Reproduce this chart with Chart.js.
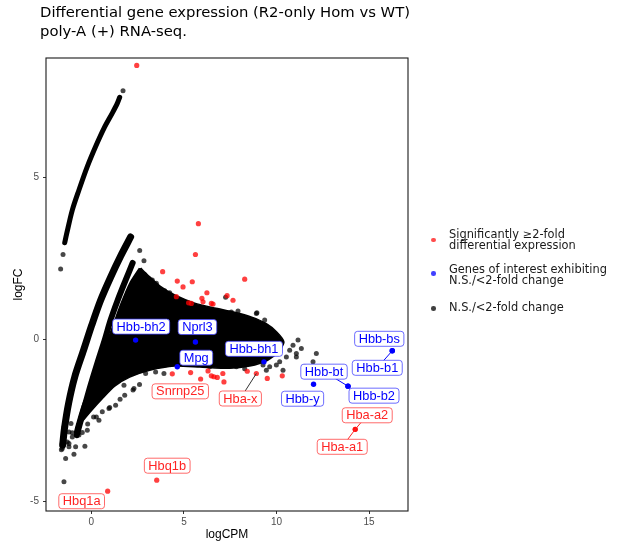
<!DOCTYPE html>
<html><head><meta charset="utf-8">
<script src="https://cdn.jsdelivr.net/npm/chart.js@4/dist/chart.umd.min.js"></script>
<style>
body{margin:0;background:#fff;}
#wrap{position:relative;width:617px;height:551px;overflow:hidden;}
canvas{position:absolute;left:0;top:0;}
.title{position:absolute;left:40px;top:3px;font-family:"DejaVu Sans",sans-serif;font-size:14.8px;line-height:18.5px;color:#000;white-space:nowrap;}
.leg{position:absolute;left:449px;font-family:"DejaVu Sans",sans-serif;font-size:11.4px;line-height:11.7px;color:#1a1a1a;white-space:nowrap;}
.dot{position:absolute;left:431px;width:4.5px;height:4.5px;border-radius:50%;}
</style></head>
<body><div id="wrap">
<canvas id="c" width="617" height="551"></canvas>
<div class="title">Differential gene expression (R2-only Hom vs WT)<br>poly-A (+) RNA-seq.</div>
<div class="dot" style="top:237.8px;background:rgba(255,0,0,0.7)"></div>
<div class="leg" style="top:228.7px">Significantly ≥2-fold<br>differential expression</div>
<div class="dot" style="top:271px;background:rgba(0,0,255,0.75)"></div>
<div class="leg" style="top:263.5px">Genes of interest exhibiting<br>N.S./&lt;2-fold change</div>
<div class="dot" style="top:306px;background:rgba(0,0,0,0.75)"></div>
<div class="leg" style="top:301.9px">N.S./&lt;2-fold change</div>
</div>
<script>
// ---------- data (logCPM = x, logFC = y) ----------
const xTicks = [0, 5, 10, 15];
const yTicks = [-5, 0, 5];

// significant (red) genes without labels
const redLogCPM = [2.45, 5.78, 5.62, 3.85, 4.64, 4.95, 5.45, 6.24, 5.97, 8.28, 7.33, 7.65, 5.25, 5.40, 6.03, 6.48, 6.57, 4.59,
                   5.36, 5.90, 6.30, 6.62, 6.80, 7.16, 7.10, 8.42, 9.50, 10.31, 6.48];
const redLogFC  = [8.44, 3.56, 2.61, 2.08, 1.79, 1.61, 1.77, 1.43, 1.26, 1.85, 1.34, 1.20, 1.12, 1.10, 1.15, 1.10, 1.08, 1.31,
                   -1.03, -1.23, -0.98, -1.16, -1.18, -1.32, -1.06, -0.99, -1.21, -1.13, -1.13];

// labelled significant (red) genes
const redGenes     = ['Snrnp25', 'Hba-x', 'Hba-a2', 'Hba-a1', 'Hbq1a', 'Hbq1b'];
const redGeneLogCPM = [4.37, 8.91, 14.25, 14.25, 0.88, 3.53];
const redGeneLogFC  = [-1.07, -1.06, -2.78, -2.78, -4.69, -4.35];

// genes of interest (blue)
const blueGenes  = ['Hbb-bh2', 'Nprl3', 'Mpg', 'Hbb-bh1', 'Hbb-y', 'Hbb-bt', 'Hbb-b2', 'Hbb-bs', 'Hbb-b1'];
const blueLogCPM = [2.39, 5.62, 4.64, 9.32, 12.0, 13.86, 13.86, 16.25, 16.25];
const blueLogFC  = [-0.03, -0.09, -0.85, -0.70, -1.39, -1.45, -1.45, -0.36, -0.36];

// N.S. genes: individually visible points
const nsLogCPM = [-1.21, -1.03, -0.49, -1.30, -1.57, -0.85, -0.35, -0.94, -1.39, -1.48, -1.21, -1.62, 0.27, 0.12, 0.99, 2.25, 1.80,
  2.30, 1.76, 1.31, 0.95, 0.41, 0.59, 2.93, 3.47, 3.92, -0.22, -0.67, -1.03, -1.48, -1.57, -1.21,
  8.91, 9.36, 11.97, 12.15, 10.71, 11.07, 11.52, 10.35, 9.99, 9.45, 9.27,
  7.25, 8.94, 3.15, 3.51, 3.96, 4.23, 5.85, 6.48, 7.02, 7.56, 7.92, 8.19, 8.55, 9.09, 9.45, 2.61, 2.84, 2.75, 3.29, 3.74,
  5.94, 6.39, 7.83, 8.28, 9.63, 10.17, 10.53, 11.07, 11.34, 11.16, 10.89,
  1.71, -1.53, -1.66, -1.10, -0.70, -1.35, -0.20, 1.55, 2.60];
const nsLogFC = [-2.86, -2.89, -2.88, -3.17, -3.37, -3.32, -3.30, -3.55, -3.68, -4.40, -3.22, -3.41, -2.40, -2.40, -2.11, -1.57, -1.73,
  -1.52, -1.42, -2.04, -2.14, -2.50, -2.24, -1.06, -1.01, -1.06, -2.81, -2.96, -3.02, -2.71, -3.22, -3.32,
  0.79, 0.59, -0.70, -0.44, -0.34, -0.55, -0.85, -0.96, -0.80, -0.96, -0.80,
  1.29, 0.81, 1.82, 1.72, 1.49, 1.43, 0.95, 0.92, 0.84, 0.84, 0.87, 0.69, 0.59, 0.48, 0.40, 2.73, 2.42, 1.92, 1.82, 1.51,
  -0.75, -0.85, -0.85, -0.91, -0.85, -0.70, -0.55, -0.44, -0.29, -0.03, -0.19,
  7.66, 2.61, 2.16, -2.60, -2.70, -2.45, -2.62, -1.85, -1.40];

// N.S. genes: dense low-count arc (upper-left)
const arcLogCPM = [-1.44, -1.33, -1.03, -0.67, -0.22, 0.23, 0.68, 1.13, 1.40, 1.53];
const arcLogFC  = [2.97, 3.26, 3.98, 4.60, 5.32, 5.94, 6.50, 6.97, 7.27, 7.46];

// N.S. genes: dense low-count bands (left)
const bandALogCPM = [-1.55, -1.45, -1.23, -0.90, -0.42, 0.02, 0.50, 1.04, 1.58, 2.12];
const bandALogFC  = [-3.27, -2.75, -1.98, -1.17, -0.34, 0.43, 1.20, 1.91, 2.56, 3.15];
const bandBLogCPM = [-0.79, -0.42, -0.04, 0.34, 0.72, 1.04, 1.42, 1.85, 2.23];
const bandBLogFC  = [-2.96, -2.19, -1.42, -0.71, -0.03, 0.59, 1.20, 1.82, 2.35];

// N.S. genes: outline of the dense central cloud
const cloudLogCPM = [2.66, 3.04, 3.69, 4.50, 5.58, 6.66, 7.74, 8.66, 9.41, 10.01, 10.40, 10.11, 9.52, 8.55, 7.47, 5.85, 4.50, 3.15,
  2.07, 1.26, 0.61, 0.02, -0.52, -0.90, -0.48, 0.08, 0.55, 1.08, 1.57, 2.08, 2.60];
const cloudLogFC  = [2.19, 1.98, 1.64, 1.36, 1.11, 0.96, 0.83, 0.68, 0.49, 0.22, -0.09, -0.40, -0.65, -0.83, -0.90, -0.86, -0.83, -0.96,
  -1.17, -1.45, -1.82, -2.19, -2.56, -2.87, -2.04, -1.27, -0.49, 0.28, 1.05, 1.73, 2.19];

// ---------- label layout (pixel offsets from point to label centre) ----------
const labelLayout = {
  'Hbb-bh2': {dx: 5.5, dy: -13.5}, 'Nprl3': {dx: 2, dy: -15}, 'Mpg': {dx: 19, dy: -9},
  'Hbb-bh1': {dx: -10, dy: -13}, 'Hbb-y': {dx: -11, dy: 14.5}, 'Hbb-bt': {dx: -24, dy: -14.5, seg: true},
  'Hbb-b2': {dx: 26, dy: 9.5}, 'Hbb-bs': {dx: -13, dy: -12}, 'Hbb-b1': {dx: -15, dy: 17, seg: true},
  'Snrnp25': {dx: 8, dy: 17.5}, 'Hba-x': {dx: -16, dy: 25, seg: true, segColor: '#333'},
  'Hba-a2': {dx: 12, dy: -14, seg: true}, 'Hba-a1': {dx: -13, dy: 17.5, seg: true},
  'Hbq1a': {dx: -26, dy: 10}, 'Hbq1b': {dx: 10.5, dy: -14.5}
};

const pts = (xs, ys) => xs.map((x, i) => ({x: x, y: ys[i]}));

const labels = [];
blueGenes.forEach((g, i) => labels.push({g, x: blueLogCPM[i], y: blueLogFC[i], c: '#0000FF', b: 'rgba(60,60,255,0.75)'}));
redGenes.forEach((g, i) => labels.push({g, x: redGeneLogCPM[i], y: redGeneLogFC[i], c: '#FF2424', b: 'rgba(255,70,70,0.8)'}));

const geneLabelPlugin = {
  id: 'geneLabels',
  afterDatasetsDraw(chart) {
    const ctx = chart.ctx, xs = chart.scales.x, ys = chart.scales.y;
    ctx.save();
    ctx.font = '12.8px "Liberation Sans", Arial, sans-serif';
    ctx.textAlign = 'center';
    ctx.textBaseline = 'middle';
    labels.forEach(l => {
      const lay = labelLayout[l.g];
      if (!lay.seg) return;
      const px = xs.getPixelForValue(l.x), py = ys.getPixelForValue(l.y);
      ctx.strokeStyle = lay.segColor || l.c;
      ctx.lineWidth = 1;
      ctx.beginPath(); ctx.moveTo(px, py); ctx.lineTo(px + lay.dx, py + lay.dy); ctx.stroke();
    });
    labels.forEach(l => {
      const lay = labelLayout[l.g];
      const px = xs.getPixelForValue(l.x), py = ys.getPixelForValue(l.y);
      const cx = px + lay.dx, cy = py + lay.dy;
      const w = ctx.measureText(l.g).width + 8, h = 15;
      const x0 = cx - w / 2, y0 = cy - h / 2, r = 3;
      ctx.beginPath();
      ctx.moveTo(x0 + r, y0); ctx.lineTo(x0 + w - r, y0); ctx.arcTo(x0 + w, y0, x0 + w, y0 + r, r);
      ctx.lineTo(x0 + w, y0 + h - r); ctx.arcTo(x0 + w, y0 + h, x0 + w - r, y0 + h, r);
      ctx.lineTo(x0 + r, y0 + h); ctx.arcTo(x0, y0 + h, x0, y0 + h - r, r);
      ctx.lineTo(x0, y0 + r); ctx.arcTo(x0, y0, x0 + r, y0, r); ctx.closePath();
      ctx.fillStyle = '#fff'; ctx.fill();
      ctx.strokeStyle = l.b; ctx.lineWidth = 1; ctx.stroke();
      ctx.fillStyle = l.c;
      ctx.fillText(l.g, cx, cy + 0.5);
    });
    ctx.restore();
  },
  afterDraw(chart) {
    const a = chart.chartArea, ctx = chart.ctx;
    ctx.save();
    ctx.strokeStyle = '#1a1a1a'; ctx.lineWidth = 1.1;
    ctx.strokeRect(a.left, a.top, a.right - a.left, a.bottom - a.top);
    ctx.restore();
  }
};

const denseLine = (data, w, order) => ({
  type: 'line', data, borderColor: '#000', borderWidth: w, pointRadius: 0, fill: false,
  tension: 0.3, borderCapStyle: 'round', borderJoinStyle: 'round', order
});

const tickFont = {family: '"Liberation Sans", Arial, sans-serif', size: 10};
const titleFont = {family: '"Liberation Sans", Arial, sans-serif', size: 12};

new Chart(document.getElementById('c'), {
  type: 'scatter',
  data: {
    datasets: [
      {data: pts(blueLogCPM, blueLogFC), backgroundColor: '#0000FF', pointRadius: 2.7, borderWidth: 0, order: 0},
      {data: pts(redLogCPM.concat(redGeneLogCPM), redLogFC.concat(redGeneLogFC)), backgroundColor: 'rgba(255,0,0,0.75)', pointRadius: 2.6, borderWidth: 0, order: 1},
      {data: pts(nsLogCPM, nsLogFC), backgroundColor: 'rgba(0,0,0,0.72)', pointRadius: 2.5, borderWidth: 0, order: 2},
      {type: 'line', data: pts(cloudLogCPM, cloudLogFC), borderColor: '#000', backgroundColor: '#000', borderWidth: 1.5,
       pointRadius: 0, fill: 'shape', tension: 0.2, order: 3},
      denseLine(pts(arcLogCPM, arcLogFC), 5, 4),
      denseLine(pts(bandALogCPM, bandALogFC), 7, 5),
      denseLine(pts(bandBLogCPM, bandBLogFC), 6, 6)
    ]
  },
  options: {
    responsive: false, animation: false, devicePixelRatio: 1, events: [],
    layout: {padding: {left: 0, top: 58, right: 209, bottom: 0}},
    plugins: {legend: {display: false}, tooltip: {enabled: false}},
    scales: {
      x: {
        type: 'linear', min: -2.45, max: 17.1,
        afterFit: s => { s.height = 40; },
        afterBuildTicks: s => { s.ticks = xTicks.map(v => ({value: v})); },
        ticks: {color: '#4D4D4D', font: tickFont, padding: 2, maxRotation: 0},
        grid: {drawOnChartArea: false, tickLength: 3, color: '#333', tickWidth: 1},
        border: {display: false},
        title: {display: true, text: 'logCPM', color: '#000', font: titleFont, padding: {top: 0, bottom: 9.5}}
      },
      y: {
        type: 'linear', min: -5.3, max: 8.67,
        afterFit: s => { s.width = 46; },
        afterBuildTicks: s => { s.ticks = yTicks.map(v => ({value: v})); },
        ticks: {color: '#4D4D4D', font: tickFont, padding: 4},
        grid: {drawOnChartArea: false, tickLength: 3, color: '#333', tickWidth: 1},
        border: {display: false},
        title: {display: true, text: 'logFC', color: '#000', font: titleFont, padding: {top: 11.5, bottom: 0}}
      }
    }
  },
  plugins: [geneLabelPlugin]
});
</script>
</body></html>
